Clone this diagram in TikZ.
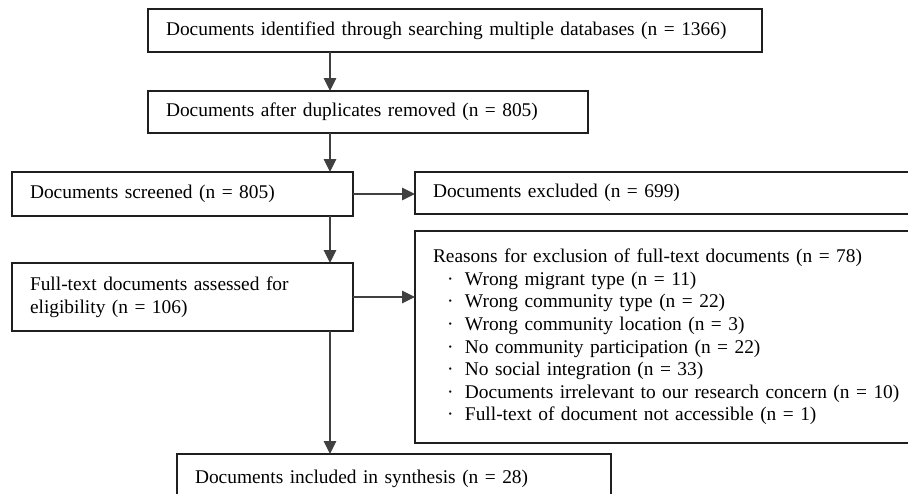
\documentclass[tikz,border=0pt]{standalone}
\usepackage{fontspec}
\setmainfont{Liberation Serif}
\usetikzlibrary{arrows.meta}
\begin{document}
\begin{tikzpicture}[x=1pt,y=-1pt,
  box/.style={draw=black!88, line width=1.8pt, anchor=north west, outer sep=0pt,
    inner xsep=18pt, inner ysep=0pt, align=left,
    font=\fontsize{19.4}{22.6}\selectfont},
  flow/.style={draw=black!75, line width=1.2pt, -{Triangle[length=13pt,width=12.5pt]}}]
\useasboundingbox (0,0) rectangle (908,493);
\clip (0,0) rectangle (908,493);
\coordinate (spine) at (330,0);
\node[box, text width=578pt, minimum height=43pt] (b1) at (148,9)
  {Documents identified through searching multiple databases (n = 1366)};
\node[box, text width=404pt, minimum height=42pt] (b2) at (148,91)
  {Documents after duplicates removed (n = 805)};
\node[box, text width=305pt, minimum height=44pt] (b3) at (12,172)
  {Documents screened (n = 805)};
\node[box, text width=484pt, minimum height=42pt] (b4) at (415,172)
  {Documents excluded (n = 699)};
\node[box, text width=484pt, minimum height=212pt] (b5) at (415,231)
  {Reasons for exclusion of full-text documents (n = 78)\\
   \hspace*{14pt}\makebox[18pt][l]{·}Wrong migrant type (n = 11)\\
   \hspace*{14pt}\makebox[18pt][l]{·}Wrong community type (n = 22)\\
   \hspace*{14pt}\makebox[18pt][l]{·}Wrong community location (n = 3)\\
   \hspace*{14pt}\makebox[18pt][l]{·}No community participation (n = 22)\\
   \hspace*{14pt}\makebox[18pt][l]{·}No social integration (n = 33)\\
   \hspace*{14pt}\makebox[18pt][l]{·}Documents irrelevant to our research concern (n = 10)\\
   \hspace*{14pt}\makebox[18pt][l]{·}Full-text of document not accessible (n = 1)\par\vspace{10pt}};
\node[box, text width=305pt, minimum height=68pt] (b6) at (12,263)
  {Full-text documents assessed for\\ eligibility (n = 106)};
\node[box, text width=398pt, minimum height=50pt] (b7) at (177,454)
  {Documents included in synthesis (n = 28)};
\draw[flow] (b1.south -| spine) -- (b2.north -| spine);
\draw[flow] (b2.south -| spine) -- (b3.north -| spine);
\draw[flow] (b3.south -| spine) -- (b6.north -| spine);
\draw[flow] (b6.south -| spine) -- (b7.north -| spine);
\draw[flow] (b3.east) -- (b3.east -| b4.west);
\draw[flow] (b6.east) -- (b6.east -| b5.west);
\end{tikzpicture}
\end{document}
